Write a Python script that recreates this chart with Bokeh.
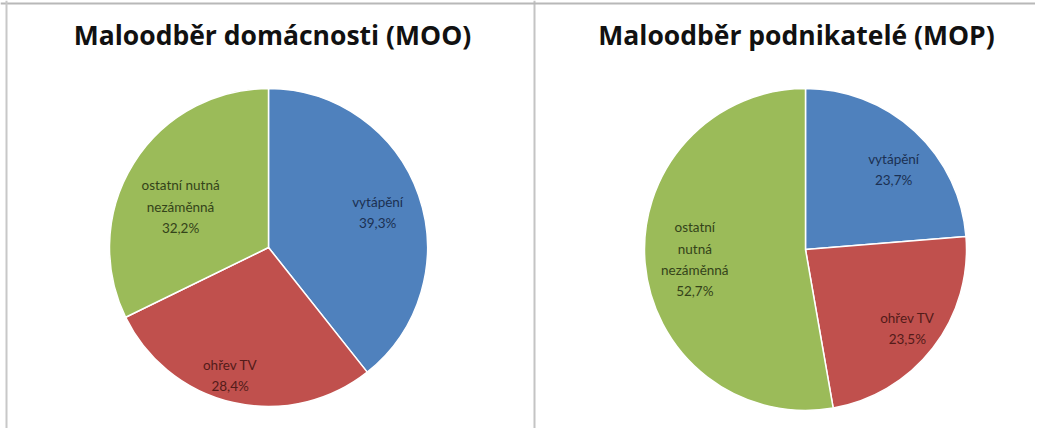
import math
from bokeh.plotting import figure
from bokeh.models import Range1d, Span
from bokeh.core.properties import value
from bokeh.embed import file_html
from bokeh.resources import INLINE

# ---- data ----
categories = ["vytápění", "ohřev TV", "ostatní nutná nezáměnná"]
moo_title = "Maloodběr domácnosti (MOO)"
mop_title = "Maloodběr podnikatelé (MOP)"
moo_values = [39.3, 28.4, 32.2]
mop_values = [23.7, 23.5, 52.7]
moo_label_names = ["vytápění", "ohřev TV", "ostatní nutná\nnezáměnná"]
mop_label_names = ["vytápění", "ohřev TV", "ostatní\nnutná\nnezáměnná"]

# ---- style ----
slice_colors = ["#4F81BD", "#C0504D", "#9BBB59"]
label_colors = ["#1B3052", "#531b19", "#34431a"]

W, H = 1035, 428
p = figure(width=W, height=H, x_range=Range1d(0, W), y_range=Range1d(-H, 0),
           output_backend="svg", toolbar_location=None, min_border=0)
p.axis.visible = False
p.grid.visible = False
p.outline_line_color = None
p.background_fill_color = "white"

# panel borders
p.add_layout(Span(location=534, dimension="height", line_color="#C4C4C4", line_width=2))
p.add_layout(Span(location=-3, dimension="width", line_color="#B8B8B8", line_width=2))
p.add_layout(Span(location=6, dimension="height", line_color="#C8C8C8", line_width=2))


def draw_pie(cx, cy, r, values, names, title, tx, label_frac, label_dang):
    total = sum(values)
    cum = 0.0
    for i, v in enumerate(values):
        a0 = cum / total * 360.0
        a1 = (cum + v) / total * 360.0
        cum += v
        p.wedge(x=[cx], y=[-cy], radius=r,
                start_angle=math.radians(90 - a0), end_angle=math.radians(90 - a1),
                direction="clock", fill_color=slice_colors[i],
                line_color="white", line_width=1.5)
        mid = (a0 + a1) / 2 + label_dang[i]
        lx = cx + label_frac[i] * r * math.sin(math.radians(mid))
        ly = cy - label_frac[i] * r * math.cos(math.radians(mid))
        txt = names[i] + "\n" + f"{v:.1f}".replace(".", ",") + "%"
        p.text(x=[lx], y=[-ly], text=[txt], text_align="center", text_baseline="middle",
               text_font=value("Lato"), text_font_size="13.5px", text_color=label_colors[i],
               text_line_height=1.32)
    p.text(x=[tx], y=[-34], text=[title], text_align="center", text_baseline="middle",
           text_font=value("Open Sans"), text_font_style="bold", text_font_size="26.5px",
           text_color="#111111")


draw_pie(268, 247, 159, moo_values, moo_label_names, moo_title, 272,
         [0.72, 0.84, 0.61], [1.6, 3.9, -7.0])
draw_pie(805, 249, 161, mop_values, mop_label_names, mop_title, 796,
         [0.74, 0.80, 0.69], [5.0, 0.0, 0.0])

open("out.html", "w").write(file_html(p, INLINE))
